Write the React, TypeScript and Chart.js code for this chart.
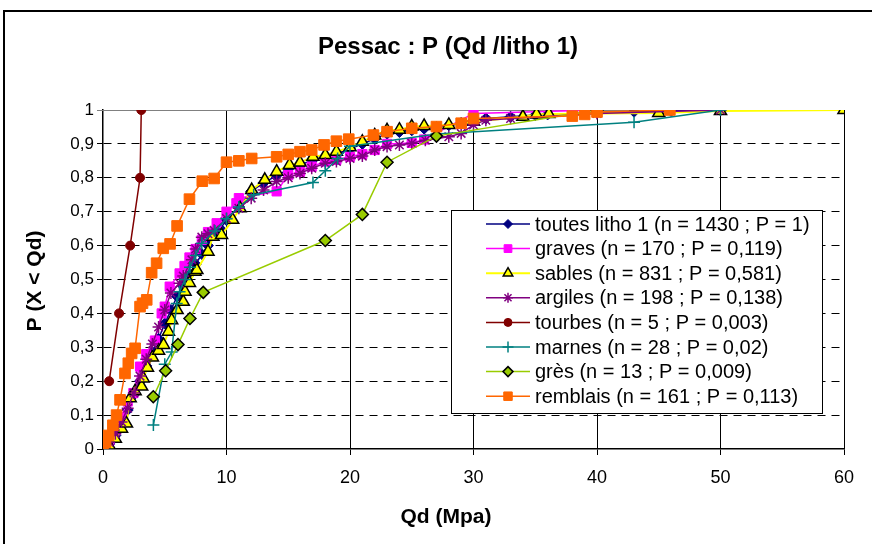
import React, { useEffect, useRef } from 'react';
import { Chart, registerables } from 'chart.js';

Chart.register(...registerables);

const FONT = '"Liberation Sans", Arial, Helvetica, sans-serif';

const chartTitle = 'Pessac : P (Qd /litho 1)';
const xTitle = 'Qd (Mpa)';
const yTitle = 'P (X < Qd)';

const xTickValues = [0, 10, 20, 30, 40, 50, 60];
const yTickLabels = ['0', '0,1', '0,2', '0,3', '0,4', '0,5', '0,6', '0,7', '0,8', '0,9', '1'];

const seriesNames = [
  'toutes litho 1 (n = 1430 ; P = 1)',
  'graves (n = 170 ; P = 0,119)',
  'sables (n = 831 ; P = 0,581)',
  'argiles (n = 198 ; P = 0,138)',
  'tourbes (n = 5 ; P = 0,003)',
  'marnes (n = 28 ; P = 0,02)',
  'grès (n = 13 ; P = 0,009)',
  'remblais (n = 161 ; P = 0,113)',
];

// [Qd, P] pairs
const toutes: [number, number][] = [
  [0, 0.003], [0.5, 0.015], [1, 0.04], [1.5, 0.075], [2, 0.115], [2.5, 0.16], [3, 0.2], [3.5, 0.245],
  [4, 0.285], [4.5, 0.325], [5, 0.37], [5.5, 0.41], [6, 0.45], [6.5, 0.48], [7, 0.515], [7.5, 0.545],
  [8, 0.575], [8.5, 0.6], [9, 0.63], [9.5, 0.65], [10, 0.675], [11, 0.715], [12, 0.76], [13, 0.785],
  [14, 0.805], [15, 0.825], [16, 0.838], [17, 0.853], [18, 0.862], [19, 0.872], [20, 0.885], [21, 0.9],
  [22, 0.915], [23, 0.93], [24, 0.935], [25, 0.94], [26, 0.945], [27, 0.95], [28, 0.955], [29, 0.962],
  [30, 0.97], [31, 0.975], [33, 0.98], [35, 0.985], [36, 0.987], [40, 0.992], [43, 0.995], [46, 0.997], [50, 1],
];
const graves: [number, number][] = [
  [0, 0.006], [0.5, 0.025], [1, 0.055], [1.5, 0.095], [2, 0.14], [2.46, 0.165], [3, 0.243], [3.5, 0.28],
  [4.2, 0.32], [4.75, 0.4], [5, 0.42], [5.4, 0.479], [6.2, 0.518], [6.6, 0.54], [7, 0.565], [7.5, 0.59],
  [8, 0.617], [8.5, 0.64], [9.2, 0.666], [10, 0.7], [10.8, 0.725], [11, 0.74], [14.06, 0.76], [15, 0.808],
  [15.95, 0.818], [16.9, 0.833], [18, 0.848], [18.9, 0.853], [20, 0.862], [21, 0.87], [22, 0.882], [23, 0.9],
  [25, 0.903], [26, 0.913], [30, 0.99], [40, 1],
];
const sables: [number, number][] = [
  [0, 0.002], [0.5, 0.01], [1, 0.03], [1.5, 0.06], [1.9, 0.075], [2.2, 0.15], [2.6, 0.17], [3.13, 0.184],
  [3.26, 0.208], [3.6, 0.24], [4, 0.27], [4.5, 0.29], [4.9, 0.307], [5.3, 0.346], [5.56, 0.38], [6, 0.41],
  [6.5, 0.434], [6.64, 0.464], [7, 0.49], [7.45, 0.523], [7.6, 0.528], [8.5, 0.582], [8.9, 0.626], [9.6, 0.631],
  [10.5, 0.676], [11.1, 0.71], [12.04, 0.764], [13.1, 0.794], [14.06, 0.818], [15.1, 0.838], [15.95, 0.845],
  [17, 0.862], [18, 0.867], [18.9, 0.877], [20, 0.89], [21, 0.906], [22, 0.925], [23, 0.94], [24, 0.942],
  [25, 0.951], [26, 0.953], [28, 0.956], [30, 0.965], [34, 0.98], [35.1, 0.987], [36.1, 0.988], [45, 0.991],
  [50, 0.997], [60, 1],
];
const argiles: [number, number][] = [
  [0, 0.005], [0.5, 0.02], [1, 0.045], [1.5, 0.08], [2, 0.12], [2.5, 0.165], [3, 0.215], [3.5, 0.265],
  [4, 0.31], [4.5, 0.36], [5, 0.41], [5.5, 0.46], [6.2, 0.489], [6.5, 0.51], [7.2, 0.558], [7.5, 0.59],
  [8, 0.625], [8.5, 0.635], [9, 0.645], [10, 0.68], [11, 0.71], [12, 0.74], [13, 0.764], [14.06, 0.789],
  [15, 0.8], [15.95, 0.813], [16.9, 0.828], [18, 0.843], [18.9, 0.848], [20, 0.857], [21, 0.864], [22, 0.882],
  [23, 0.892], [24, 0.897], [25, 0.902], [26.1, 0.911], [28, 0.921], [29, 0.931], [30, 0.956], [31, 0.97],
  [33, 0.975], [40, 0.99], [50, 1],
];
const tourbes: [number, number][] = [
  [0.5, 0.2], [1.3, 0.4], [2.2, 0.6], [3.0, 0.8], [3.1, 1.0],
];
const marnes: [number, number][] = [
  [4.08, 0.071], [5.0, 0.25], [5.56, 0.286], [5.97, 0.429], [6.2, 0.464], [6.64, 0.5], [7.04, 0.536],
  [7.5, 0.571], [8.0, 0.607], [9.07, 0.643], [10, 0.679], [11, 0.714], [12.2, 0.75], [17, 0.786],
  [18, 0.821], [19, 0.857], [20, 0.893], [27, 0.929], [43, 0.964], [50, 1],
];
const gres: [number, number][] = [
  [4.07, 0.154], [5.07, 0.231], [6.07, 0.308], [7.04, 0.385], [8.12, 0.462], [18, 0.615], [21, 0.692],
  [23, 0.846], [27, 0.923], [40, 1],
];
const remblais: [number, number][] = [
  [0, 0.006], [0.2, 0.02], [0.45, 0.04], [0.8, 0.07], [1.1, 0.1], [1.38, 0.145], [1.78, 0.223], [2.05, 0.253],
  [2.32, 0.282], [2.6, 0.297], [3.0, 0.42], [3.2, 0.43], [3.54, 0.44], [3.94, 0.52], [4.34, 0.548], [4.88, 0.592],
  [5.43, 0.605], [6.0, 0.658], [7.0, 0.737], [8.04, 0.79], [9.0, 0.798], [10.0, 0.846], [11.0, 0.85],
  [12.04, 0.857], [14.06, 0.862], [15, 0.869], [15.95, 0.877], [16.9, 0.882], [17.9, 0.897], [18.9, 0.908],
  [19.9, 0.914], [21.9, 0.926], [23, 0.936], [25, 0.946], [27, 0.951], [29, 0.961], [30, 0.975], [38, 0.982],
  [39, 0.987], [40, 0.994], [45.9, 1.0],
];

const seriesData = [toutes, graves, sables, argiles, tourbes, marnes, gres, remblais];

type Style = {
  line: string; fill: string; border: string; shape: string; radius: number; bw: number; lw: number; lr: number;
};
const styles: Style[] = [
  { line: '#000080', fill: '#000080', border: '#000080', shape: 'rectRot', radius: 5.5, bw: 1, lw: 1.5, lr: 4.5 },
  { line: '#FF00FF', fill: '#FF00FF', border: '#FF00FF', shape: 'rect', radius: 6.5, bw: 1, lw: 1.5, lr: 5.5 },
  { line: '#FFFF00', fill: '#FFFF00', border: '#000000', shape: 'triangle', radius: 7, bw: 1.5, lw: 2, lr: 5.5 },
  { line: '#800080', fill: '#800080', border: '#800080', shape: 'star', radius: 6, bw: 1.5, lw: 1.5, lr: 5 },
  { line: '#800000', fill: '#800000', border: '#800000', shape: 'circle', radius: 4.5, bw: 1, lw: 1.5, lr: 4 },
  { line: '#008080', fill: '#008080', border: '#008080', shape: 'cross', radius: 6, bw: 1.5, lw: 1.5, lr: 5.5 },
  { line: '#99CC00', fill: '#99CC00', border: '#000000', shape: 'rectRot', radius: 6, bw: 1.5, lw: 1.5, lr: 5 },
  { line: '#FF6600', fill: '#FF6600', border: '#FF6600', shape: 'rect', radius: 7.5, bw: 1, lw: 1.5, lr: 6 },
];

function drawMarker(ctx: CanvasRenderingContext2D, shape: string, x: number, y: number, r: number, fill: string, border: string, bw: number) {
  ctx.save();
  ctx.fillStyle = fill;
  ctx.strokeStyle = border;
  ctx.lineWidth = bw;
  ctx.beginPath();
  if (shape === 'circle') {
    ctx.arc(x, y, r, 0, Math.PI * 2);
    ctx.fill(); ctx.stroke();
  } else if (shape === 'rect') {
    const s = r * Math.SQRT1_2;
    ctx.rect(x - s, y - s, 2 * s, 2 * s);
    ctx.fill(); ctx.stroke();
  } else if (shape === 'rectRot') {
    ctx.moveTo(x, y - r); ctx.lineTo(x + r, y); ctx.lineTo(x, y + r); ctx.lineTo(x - r, y); ctx.closePath();
    ctx.fill(); ctx.stroke();
  } else if (shape === 'triangle') {
    ctx.moveTo(x, y - r);
    ctx.lineTo(x + r * Math.sin(Math.PI * 2 / 3), y - r * Math.cos(Math.PI * 2 / 3));
    ctx.lineTo(x + r * Math.sin(Math.PI * 4 / 3), y - r * Math.cos(Math.PI * 4 / 3));
    ctx.closePath();
    ctx.fill(); ctx.stroke();
  } else if (shape === 'cross' || shape === 'star') {
    ctx.moveTo(x - r, y); ctx.lineTo(x + r, y); ctx.moveTo(x, y - r); ctx.lineTo(x, y + r);
    if (shape === 'star') {
      const d = r * Math.SQRT1_2;
      ctx.moveTo(x - d, y - d); ctx.lineTo(x + d, y + d); ctx.moveTo(x - d, y + d); ctx.lineTo(x + d, y - d);
    }
    ctx.stroke();
  }
  ctx.restore();
}

const decorPlugin = {
  id: 'decor',
  beforeDraw(chart: any) {
    const ctx = chart.ctx as CanvasRenderingContext2D;
    ctx.save();
    ctx.fillStyle = '#ffffff';
    ctx.fillRect(0, 0, chart.width, chart.height);
    ctx.strokeStyle = '#000000';
    ctx.lineWidth = 2;
    ctx.strokeRect(4, 11, chart.width + 20, chart.height + 20);
    ctx.restore();
  },
  beforeDatasetsDraw(chart: any) {
    const ctx = chart.ctx as CanvasRenderingContext2D;
    const xs = chart.scales.x;
    const ys = chart.scales.y;
    const yTop = Math.round(ys.getPixelForValue(1)) + 0.5;
    ctx.save();
    ctx.strokeStyle = '#808080';
    ctx.lineWidth = 1;
    ctx.beginPath();
    ctx.moveTo(xs.left - 6, yTop);
    ctx.lineTo(xs.right, yTop);
    ctx.stroke();
    ctx.restore();
  },
  afterDraw(chart: any) {
    const ctx = chart.ctx as CanvasRenderingContext2D;
    ctx.save();
    ctx.fillStyle = '#000000';
    ctx.textAlign = 'center';
    ctx.textBaseline = 'middle';
    ctx.font = `bold 24px ${FONT}`;
    ctx.fillText(chartTitle, 448, 47);
    ctx.font = `bold 21px ${FONT}`;
    ctx.fillText(xTitle, 446, 517);
    ctx.save();
    ctx.translate(35, 281);
    ctx.rotate(-Math.PI / 2);
    ctx.fillText(yTitle, 0, 0);
    ctx.restore();

    // legend
    const lx = 451, ly = 210, lw = 371, lh = 203;
    ctx.fillStyle = '#ffffff';
    ctx.fillRect(lx, ly, lw, lh);
    ctx.strokeStyle = '#000000';
    ctx.lineWidth = 1;
    ctx.strokeRect(lx + 0.5, ly + 0.5, lw, lh);
    ctx.font = `20px ${FONT}`;
    ctx.textAlign = 'left';
    ctx.textBaseline = 'middle';
    seriesNames.forEach((name, i) => {
      const st = styles[i];
      const y = 224 + i * 24.6;
      ctx.strokeStyle = st.line;
      ctx.lineWidth = st.lw;
      ctx.beginPath();
      ctx.moveTo(486, y);
      ctx.lineTo(530, y);
      ctx.stroke();
      drawMarker(ctx, st.shape, 508, y, st.lr, st.fill, st.border, st.bw);
      ctx.fillStyle = '#000000';
      ctx.fillText(name, 535, y + 1);
    });
    ctx.restore();
  },
};

export default function App() {
  const canvasRef = useRef<HTMLCanvasElement | null>(null);

  useEffect(() => {
    const canvas = canvasRef.current;
    if (!canvas) return;
    const datasets = seriesData.map((pts, i) => {
      const st = styles[i];
      return {
        label: seriesNames[i],
        data: pts.map(([x, y]) => ({ x, y })),
        borderColor: st.line,
        borderWidth: st.lw,
        backgroundColor: st.fill,
        pointStyle: st.shape as any,
        pointRadius: st.radius,
        pointBackgroundColor: st.fill,
        pointBorderColor: st.border,
        pointBorderWidth: st.bw,
        tension: 0,
        fill: false,
        order: seriesData.length - 1 - i,
      };
    });
    const chart = new Chart(canvas, {
      type: 'line',
      data: { datasets },
      options: {
        animation: false,
        responsive: false,
        maintainAspectRatio: false,
        devicePixelRatio: 1,
        layout: { padding: { left: 0, right: 28, top: 110, bottom: 0 } },
        plugins: {
          legend: { display: false },
          title: { display: false },
          tooltip: { enabled: false },
        },
        scales: {
          x: {
            type: 'linear',
            min: 0,
            max: 60,
            afterBuildTicks: (scale: any) => {
              scale.ticks = xTickValues.map((v) => ({ value: v }));
            },
            afterFit: (scale: any) => {
              scale.height = 95;
            },
            ticks: {
              color: '#000000',
              font: { family: FONT, size: 18 },
              padding: 12,
              maxRotation: 0,
              callback: (v: any) => String(v),
            },
            grid: {
              color: (ctx: any) => (ctx.tick && ctx.tick.value === 0 ? 'rgba(0,0,0,0)' : '#000000'),
              lineWidth: 1,
              tickLength: 6,
              tickColor: '#000000',
            },
            border: { display: true, color: '#000000', width: 1.5 },
          },
          y: {
            type: 'linear',
            min: 0,
            max: 1,
            afterBuildTicks: (scale: any) => {
              scale.ticks = yTickLabels.map((_, i) => ({ value: i / 10 }));
            },
            afterFit: (scale: any) => {
              scale.width = 103;
            },
            ticks: {
              color: '#000000',
              font: { family: FONT, size: 17 },
              padding: 3,
              callback: (_v: any, idx: number) => yTickLabels[idx],
            },
            grid: {
              color: (ctx: any) => (ctx.tick && (ctx.tick.value === 0 || ctx.tick.value === 1) ? 'rgba(0,0,0,0)' : '#000000'),
              lineWidth: 1,
              tickLength: 6,
              tickColor: '#000000',
            },
            border: { display: true, color: '#000000', width: 1.5, dash: [8, 6] },
          },
        },
      },
      plugins: [decorPlugin],
    });
    return () => chart.destroy();
  }, []);

  return (
    <div style={{ position: 'fixed', left: 0, top: 0, width: 872, height: 544, overflow: 'hidden', background: '#fff' }}>
      <canvas ref={canvasRef} width={872} height={544} style={{ display: 'block' }} />
    </div>
  );
}
